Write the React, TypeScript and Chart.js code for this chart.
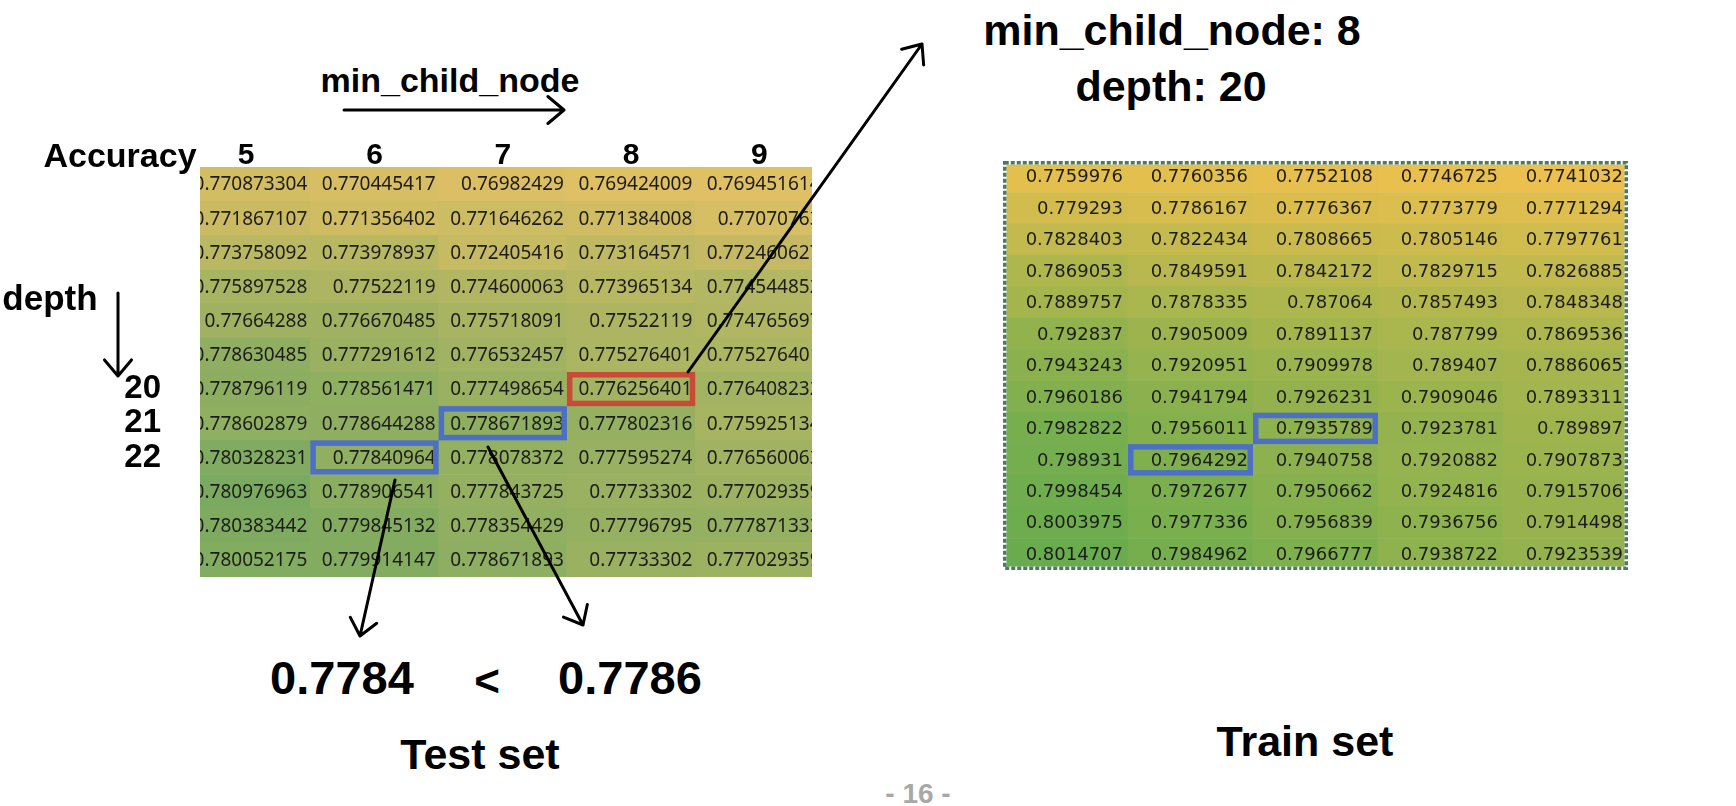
import React, { useEffect, useRef } from "react";
import { Chart, registerables } from "chart.js";

Chart.register(...registerables);

// ---- data -------------------------------------------------------------
const minChildNodes = [5, 6, 7, 8, 9];
const testDepths = [14, 15, 16, 17, 18, 19, 20, 21, 22, 23, 24, 25];
const trainDepths = [13, 14, 15, 16, 17, 18, 19, 20, 21, 22, 23, 24, 25];
const shownDepthTicks = [20, 21, 22];

const testMcn5 = [0.770873304, 0.771867107, 0.773758092, 0.775897528, 0.77664288, 0.778630485, 0.778796119, 0.778602879, 0.780328231, 0.780976963, 0.780383442, 0.780052175];
const testMcn6 = [0.770445417, 0.771356402, 0.773978937, 0.77522119, 0.776670485, 0.777291612, 0.778561471, 0.778644288, 0.77840964, 0.778906541, 0.779845132, 0.779914147];
const testMcn7 = [0.76982429, 0.771646262, 0.772405416, 0.774600063, 0.775718091, 0.776532457, 0.777498654, 0.778671893, 0.778078372, 0.777843725, 0.778354429, 0.778671893];
const testMcn8 = [0.769424009, 0.771384008, 0.773164571, 0.773965134, 0.77522119, 0.775276401, 0.776256401, 0.777802316, 0.777595274, 0.77733302, 0.77796795, 0.77733302];
const testMcn9 = [0.769451614, 0.77070763, 0.772460627, 0.774544852, 0.774765697, 0.775276401, 0.776408232, 0.775925134, 0.776560063, 0.777029359, 0.777871332, 0.777029359];

const trainMcn5 = [0.7759976, 0.779293, 0.7828403, 0.7869053, 0.7889757, 0.792837, 0.7943243, 0.7960186, 0.7982822, 0.798931, 0.7998454, 0.8003975, 0.8014707];
const trainMcn6 = [0.7760356, 0.7786167, 0.7822434, 0.7849591, 0.7878335, 0.7905009, 0.7920951, 0.7941794, 0.7956011, 0.7964292, 0.7972677, 0.7977336, 0.7984962];
const trainMcn7 = [0.7752108, 0.7776367, 0.7808665, 0.7842172, 0.787064, 0.7891137, 0.7909978, 0.7926231, 0.7935789, 0.7940758, 0.7950662, 0.7956839, 0.7966777];
const trainMcn8 = [0.7746725, 0.7773779, 0.7805146, 0.7829715, 0.7857493, 0.787799, 0.789407, 0.7909046, 0.7923781, 0.7920882, 0.7924816, 0.7936756, 0.7938722];
const trainMcn9 = [0.7741032, 0.7771294, 0.7797761, 0.7826885, 0.7848348, 0.7869536, 0.7886065, 0.7893311, 0.789897, 0.7907873, 0.7915706, 0.7914498, 0.7923539];

const RED = "#c84b36";
const BLUE = "#4d6fc6";
const testHighlights = [
  { mcn: 8, depth: 20, color: RED },
  { mcn: 7, depth: 21, color: BLUE },
  { mcn: 6, depth: 22, color: BLUE },
];
const trainHighlights = [
  { mcn: 6, depth: 22, color: BLUE },
  { mcn: 7, depth: 21, color: BLUE },
];

// ---- heatmap ------------------------------------------------------------
type Highlight = { mcn: number; depth: number; color: string };
type HeatProps = {
  columns: number[][];
  depths: number[];
  highlights: Highlight[];
  left: number;
  top: number;
  width: number;
  height: number;
  xMin: number;
  xMax: number;
  lowColor: number[];
  highColor: number[];
  textFont: string;
  textPad: number;
  showAxes: boolean;
  axisTop: number;
  axisLeft: number;
  dashed: boolean;
};

function Heatmap(p: HeatProps) {
  const ref = useRef<HTMLCanvasElement>(null);
  useEffect(() => {
    const canvas = ref.current!;
    const all = p.columns.flat();
    const vMin = Math.min(...all);
    const vMax = Math.max(...all);
    const cells: { x: number; y: number[]; v: number }[] = [];
    p.columns.forEach((col, c) => col.forEach((v, r) => cells.push({ x: c, y: [r, r + 1], v })));
    const colorOf = (v: number) => {
      const t = (v - vMin) / (vMax - vMin);
      const ch = p.lowColor.map((lo, i) => Math.round(lo + (p.highColor[i] - lo) * t));
      return `rgb(${ch.join(",")})`;
    };

    const cellPlugin = {
      id: "cellText",
      afterDatasetsDraw(chart: any) {
        const { ctx, chartArea: a, scales } = chart;
        const xs = scales.x;
        const ys = scales.y;
        ctx.save();
        ctx.beginPath();
        ctx.rect(a.left, a.top, a.right - a.left, a.bottom - a.top);
        ctx.clip();
        ctx.font = p.textFont;
        ctx.fillStyle = "#1c1c1c";
        ctx.textAlign = "right";
        ctx.textBaseline = "middle";
        cells.forEach((cell) => {
          ctx.fillText(
            String(cell.v),
            xs.getPixelForValue(cell.x + 0.5) - p.textPad,
            ys.getPixelForValue(cell.y[0] + 0.5) + 1
          );
        });
        ctx.restore();

        ctx.save();
        if (p.dashed) {
          const lw = 3.5;
          ctx.lineWidth = lw;
          ctx.strokeStyle = "#ffffff";
          ctx.strokeRect(a.left + lw / 2, a.top + lw / 2, a.right - a.left - lw, a.bottom - a.top - lw);
          ctx.setLineDash([4, 2]);
          ctx.strokeStyle = "#4b7a5f";
          ctx.strokeRect(a.left + lw / 2, a.top + lw / 2, a.right - a.left - lw, a.bottom - a.top - lw);
          ctx.setLineDash([]);
        }
        p.highlights.forEach((h) => {
          const c = minChildNodes.indexOf(h.mcn);
          const r = p.depths.indexOf(h.depth);
          const x0 = xs.getPixelForValue(c - 0.5);
          const x1 = xs.getPixelForValue(c + 0.5);
          const y0 = ys.getPixelForValue(r);
          const y1 = ys.getPixelForValue(r + 1);
          const lw = 5.5;
          ctx.lineWidth = lw;
          ctx.strokeStyle = h.color;
          ctx.strokeRect(x0 + lw / 2, y0 + lw / 2, x1 - x0 - lw, y1 - y0 - lw);
        });
        ctx.restore();
      },
    };

    const tickFont = (size: number) => ({ family: "'Liberation Sans', Arial, sans-serif", weight: "bold" as const, size, lineHeight: 1 });

    const chart = new Chart(canvas, {
      type: "bar",
      data: {
        datasets: [
          {
            data: cells as any,
            backgroundColor: cells.map((c) => colorOf(c.v)),
            borderWidth: 0,
            barPercentage: 1,
            categoryPercentage: 1,
          },
        ],
      },
      options: {
        responsive: false,
        animation: false,
        events: [],
        layout: { padding: 0 },
        plugins: { legend: { display: false }, tooltip: { enabled: false } },
        scales: {
          x: {
            type: "linear",
            position: "top",
            offset: false,
            min: p.xMin,
            max: p.xMax,
            display: p.showAxes,
            grid: { display: false, drawTicks: false, offset: false },
            border: { display: false },
            afterBuildTicks: (s: any) => {
              s.ticks = minChildNodes.map((_, i) => ({ value: i }));
            },
            afterFit: (s: any) => {
              s.height = p.axisTop;
              s.paddingLeft = 0;
              s.paddingRight = 0;
              s.paddingTop = 0;
              s.paddingBottom = 0;
            },
            ticks: {
              callback: (v: any) => String(minChildNodes[v]),
              color: "#000",
              padding: -4,
              autoSkip: false,
              maxRotation: 0,
              minRotation: 0,
              font: tickFont(30),
            },
          },
          y: {
            type: "linear",
            reverse: true,
            offset: false,
            min: 0,
            max: p.depths.length,
            display: p.showAxes,
            grid: { display: false, drawTicks: false },
            border: { display: false },
            afterBuildTicks: (s: any) => {
              s.ticks = shownDepthTicks.map((d) => ({ value: p.depths.indexOf(d) + 0.5 }));
            },
            afterFit: (s: any) => {
              s.width = p.axisLeft;
              s.paddingLeft = 0;
              s.paddingRight = 0;
              s.paddingTop = 0;
              s.paddingBottom = 0;
            },
            ticks: {
              callback: (v: any) => String(p.depths[Math.floor(v)]),
              crossAlign: "center",
              padding: 39,
              color: "#000",
              autoSkip: false,
              font: tickFont(33),
            },
          },
        },
      } as any,
      plugins: [cellPlugin],
    });
    return () => chart.destroy();
  }, []);

  return (
    <div style={{ position: "absolute", left: p.left, top: p.top, width: p.width, height: p.height }}>
      <canvas ref={ref} width={p.width} height={p.height} style={{ display: "block", width: p.width, height: p.height }} />
    </div>
  );
}

// ---- annotations ----------------------------------------------------------
const arrows = [
  { from: [344, 110], to: [564, 110] },
  { from: [118, 293], to: [118, 376] },
  { from: [688, 372], to: [922, 44] },
  { from: [395, 480], to: [360, 636] },
  { from: [488, 447], to: [583, 625] },
];

function arrowPath(from: number[], to: number[], len = 21, ang = (40 * Math.PI) / 180) {
  const [x1, y1] = from;
  const [x2, y2] = to;
  const a = Math.atan2(y1 - y2, x1 - x2);
  const h1 = [x2 + len * Math.cos(a + ang), y2 + len * Math.sin(a + ang)];
  const h2 = [x2 + len * Math.cos(a - ang), y2 + len * Math.sin(a - ang)];
  return `M${x1},${y1} L${x2},${y2} M${h1[0]},${h1[1]} L${x2},${y2} L${h2[0]},${h2[1]}`;
}

function Label(props: { text: string; cx: number; cy: number; size: number; color?: string }) {
  return (
    <div
      style={{
        position: "absolute",
        left: props.cx,
        top: props.cy,
        transform: "translate(-50%, -50%)",
        fontSize: props.size,
        lineHeight: 1,
        fontWeight: 700,
        whiteSpace: "nowrap",
        color: props.color ?? "#000",
      }}
    >
      {props.text}
    </div>
  );
}

export default function App() {
  return (
    <div
      style={{
        position: "absolute",
        left: 0,
        top: 0,
        width: 1736,
        height: 806,
        overflow: "hidden",
        background: "#ffffff",
        fontFamily: "'Liberation Sans', Arial, sans-serif",
      }}
    >
      <Heatmap
        columns={[testMcn5, testMcn6, testMcn7, testMcn8, testMcn9]}
        depths={testDepths}
        highlights={testHighlights}
        left={0}
        top={100}
        width={812}
        height={477}
        xMin={-0.36}
        xMax={4.41}
        lowColor={[224, 192, 100]}
        highColor={[122, 170, 96]}
        textFont="19px 'Noto Sans', sans-serif"
        textPad={3}
        showAxes={true}
        axisTop={67}
        axisLeft={200}
        dashed={false}
      />
      <Heatmap
        columns={[trainMcn5, trainMcn6, trainMcn7, trainMcn8, trainMcn9]}
        depths={trainDepths}
        highlights={trainHighlights}
        left={1003}
        top={161}
        width={625}
        height={409}
        xMin={-0.5}
        xMax={4.5}
        lowColor={[236, 192, 78]}
        highColor={[104, 172, 78]}
        textFont="18px 'DejaVu Sans', sans-serif"
        textPad={5}
        showAxes={false}
        axisTop={0}
        axisLeft={0}
        dashed={true}
      />

      <Label text="min_child_node" cx={450} cy={80} size={34} />
      <Label text="Accuracy" cx={120} cy={155} size={34} />
      <Label text="depth" cx={50} cy={297} size={35} />
      <Label text="min_child_node: 8" cx={1172} cy={30} size={43} />
      <Label text="depth: 20" cx={1171} cy={86} size={43} />
      <Label text="0.7784" cx={342} cy={677} size={47} />
      <Label text="<" cx={487} cy={681} size={44} />
      <Label text="0.7786" cx={630} cy={677} size={47} />
      <Label text="Test set" cx={480} cy={754} size={43} />
      <Label text="Train set" cx={1305} cy={741} size={43} />
      <Label text="- 16 -" cx={918} cy={794} size={28} color="#a8a8a8" />

      <svg
        width={1736}
        height={806}
        style={{ position: "absolute", left: 0, top: 0, pointerEvents: "none" }}
      >
        {arrows.map((a, i) => (
          <path
            key={i}
            d={arrowPath(a.from, a.to)}
            fill="none"
            stroke="#000"
            strokeWidth={3}
            strokeLinecap="round"
            strokeLinejoin="round"
          />
        ))}
      </svg>
    </div>
  );
}
